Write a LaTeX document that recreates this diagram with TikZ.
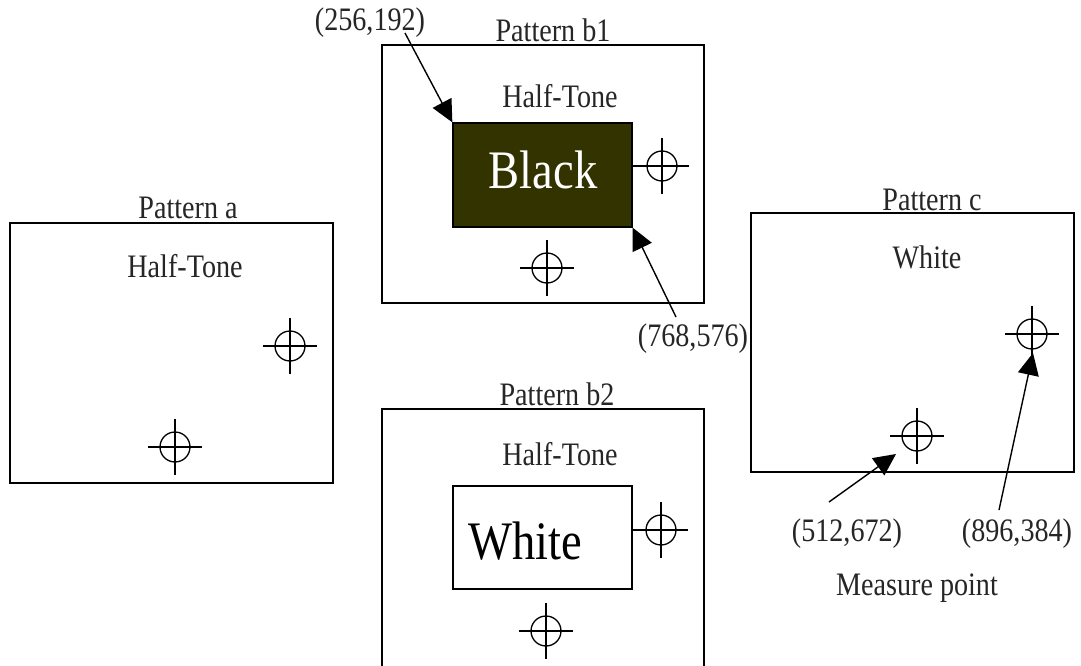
\documentclass[tikz,border=0pt]{standalone}
\usepackage{fontspec}
\usepackage{graphicx}
\setmainfont{Liberation Serif}
\usetikzlibrary{arrows.meta,calc}
\definecolor{darkolive}{HTML}{333300}
\newcommand{\vs}[1]{\scalebox{0.97}[1.13]{#1}}
\tikzset{
  frame/.style={draw=black,line width=1.5pt,fill=white},
  lbl/.style={font=\fontsize{29}{32}\selectfont,inner sep=0pt,text=black!85},
  biglbl/.style={font=\fontsize{48}{52}\selectfont,inner sep=0pt},
  target/.style={circle,draw=black,line width=1.3pt,minimum size=30pt,inner sep=0pt},
  crossline/.style={line width=1.3pt},
  arr/.style={line width=1.4pt,-{Triangle[length=22pt,width=21pt]}},
}
\newcommand{\xhair}[2]{%
  \node[target] (#1) at (#2) {};
  \draw[crossline] ($(#1.center)+(-27,0)$) -- ($(#1.center)+(27,0)$);
  \draw[crossline] ($(#1.center)+(0,-28)$) -- ($(#1.center)+(0,28)$);
}
\begin{document}
\begin{tikzpicture}[x=1pt,y=-1pt]
\useasboundingbox[fill=white] (0,0) rectangle (1081,666);
% Pattern a
\draw[frame] (10,223) rectangle (333,483);
\node[lbl] (pa) at (188,208) {\vs{Pattern a}};
\node[lbl] (hta) at (185,266) {\vs{Half-Tone}};
\xhair{a1}{290,346}
\xhair{a2}{175,447}
% Pattern b1
\draw[frame] (382,45) rectangle (704,303);
\node[lbl] (pb1) at (553,30) {\vs{Pattern b1}};
\node[lbl] (htb1) at (560,96) {\vs{Half-Tone}};
\node[draw=black,line width=1.3pt,fill=darkolive,minimum width=179pt,minimum height=104pt,inner sep=0pt] (blk) at (542.5,175) {};
\node[biglbl,text=white] at (543,170) {\vs{Black}};
\xhair{b1}{662,166}
\draw[crossline] (blk.east |- b1.center) -- (b1.center);
\xhair{b2}{547,268}
\node[lbl] (c256) at (370,23) {\vs{(256,192)}};
\coordinate (t1) at (405,33);
\draw[arr] (t1) -- (blk.north west);
\node[lbl] (c768) at (693,339) {\vs{(768,576)}};
\coordinate (t2) at (676,317);
\draw[arr] (t2) -- (blk.south east);
% Pattern b2
\draw[frame] (382,409) rectangle (704,680);
\node[lbl] (pb2) at (557,394) {\vs{Pattern b2}};
\node[lbl] (htb2) at (560,454) {\vs{Half-Tone}};
\node[draw=black,line width=1.3pt,fill=white,minimum width=179pt,minimum height=103pt,inner sep=0pt] (wht) at (542.5,537.5) {};
\node[biglbl] at (525,541) {\vs{White}};
\xhair{c1}{661,530}
\draw[crossline] (wht.east |- c1.center) -- (c1.center);
\xhair{c2}{546,631}
% Pattern c
\draw[frame] (751,213) rectangle (1074,472);
\node[lbl] (pc) at (932,200) {\vs{Pattern c}};
\node[lbl] (whc) at (927,257) {\vs{White}};
\xhair{d1}{1032,334}
\xhair{d2}{917,436}
\node[lbl] (c512) at (847,534) {\vs{(512,672)}};
\node[lbl] (c896) at (1017,534) {\vs{(896,384)}};
\node[lbl] (mp) at (917,588) {\vs{Measure point}};
\coordinate (t3) at (829,502);
\coordinate (h3) at (896,454);
\draw[arr] (t3) -- (h3);
\coordinate (t4) at (999,510);
\coordinate (h4) at (1033,353);
\draw[arr] (t4) -- (h4);
\end{tikzpicture}
\end{document}
